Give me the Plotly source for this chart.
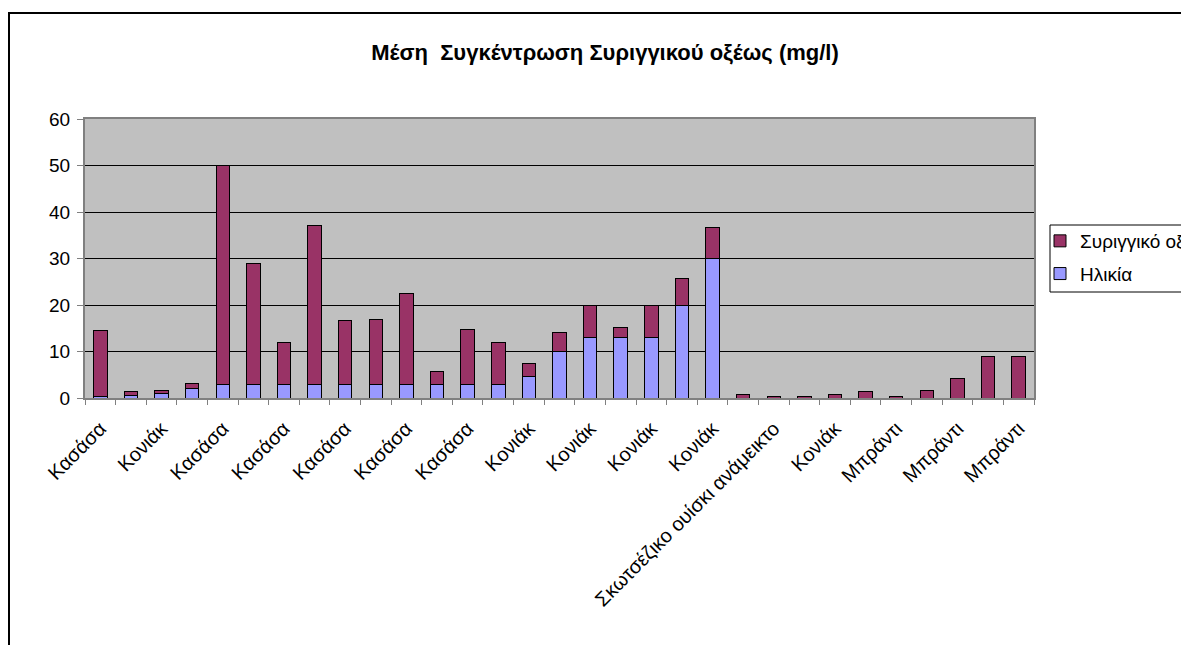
import plotly.graph_objects as go

# category positions (31 samples), labels shown on every second one
positions = list(range(31))
tick_positions = positions[::2]
tick_labels = [
    "Κασάσα", "Κονιάκ", "Κασάσα", "Κασάσα", "Κασάσα", "Κασάσα", "Κασάσα", "Κονιάκ",
    "Κονιάκ", "Κονιάκ", "Κονιάκ", "Σκωτσέζικο ουίσκι ανάμεικτο", "Κονιάκ",
    "Μπράντι", "Μπράντι", "Μπράντι",
]

age = [0.3, 0.5, 1, 2, 3, 3, 3, 3, 3, 3, 3, 3, 3, 3, 4.7, 10, 13, 13, 13, 20, 30,
       0, 0, 0, 0, 0, 0, 0, 0, 0, 0]
syringic_acid = [14.2, 0.8, 0.7, 1.1, 47, 26, 9, 34, 13.6, 13.9, 19.4, 2.8, 11.8, 9,
                 2.8, 4.1, 7, 2.2, 7, 5.6, 6.6, 0.7, 0.3, 0.3, 0.7, 1.4, 0.3, 1.7,
                 4.2, 9, 9]

# page body has an 8px margin, so the figure is laid out in shifted pixels
OFF = 8
W, H = 1189 - OFF, 645 - OFF
L, R, T, B = 85 - OFF, 1034 - OFF, 119 - OFF, 398 - OFF
pw, ph = R - L, B - T


def px_x(sx):
    # screen x -> paper x
    return (sx - 85) / pw


def px_y(sy):
    # screen y -> paper y
    return 1 - (sy - 119) / ph


font = "Arial, Liberation Sans, sans-serif"

fig = go.Figure()
fig.add_trace(go.Bar(
    x=positions, y=age, name="Ηλικία", legendgroup="age", legendrank=2,
    marker=dict(color="#9999FF", line=dict(color="black", width=1)),
))
fig.add_trace(go.Bar(
    x=positions, y=syringic_acid, name="Συριγγικό οξύ", legendgroup="acid", legendrank=1,
    marker=dict(color="#993366", line=dict(color="black", width=1)),
))

fig.update_layout(
    width=W, height=H,
    barmode="stack", bargap=0.56,
    paper_bgcolor="white", plot_bgcolor="#C0C0C0",
    margin=dict(l=L, r=W - R, t=T, b=H - B, autoexpand=False),
    font=dict(family=font, size=19, color="black"),
    title=dict(
        text="<b>Μέση  Συγκέντρωση Συριγγικού οξέως (mg/l)</b>",
        x=px_x(605), xref="paper", xanchor="center",
        y=1 - (52 - OFF) / H, yanchor="middle",
        font=dict(size=22, family=font),
    ),
    legend=dict(
        x=px_x(1040), xanchor="left",
        y=px_y(222), yanchor="top",
        traceorder="grouped", tracegroupgap=5,
        borderwidth=0, bgcolor="rgba(0,0,0,0)",
        font=dict(size=19),
    ),
    showlegend=True,
)

fig.update_xaxes(
    range=[-0.5, 30.5],
    tickmode="array", tickvals=tick_positions, ticktext=tick_labels,
    tickangle=-45, ticks="", ticklabelstandoff=9, tickfont=dict(size=20),
    minor=dict(tick0=0.5, dtick=1, ticks="outside", ticklen=5, tickcolor="#808080"),
    showline=True, linecolor="#808080", linewidth=2, mirror=True,
    showgrid=False, zeroline=False,
)
fig.update_yaxes(
    range=[0, 60], dtick=10,
    ticks="outside", ticklen=6, tickcolor="#808080", ticklabelstandoff=3,
    showline=True, linecolor="#808080", linewidth=2, mirror=True,
    showgrid=True, gridcolor="black", gridwidth=1, zeroline=False,
)

# outer chart frame, running off the right and bottom edges
fig.add_shape(
    type="rect", xref="paper", yref="paper",
    x0=px_x(9), x1=px_x(1300), y0=px_y(720), y1=px_y(13),
    line=dict(color="black", width=2), layer="below",
)
# legend frame, cut by the right edge like the original
fig.add_shape(
    type="rect", xref="paper", yref="paper",
    x0=px_x(1050), x1=px_x(1300), y0=px_y(292), y1=px_y(225),
    line=dict(color="black", width=1), fillcolor="white", layer="below",
)

fig.write_html("out.html")
